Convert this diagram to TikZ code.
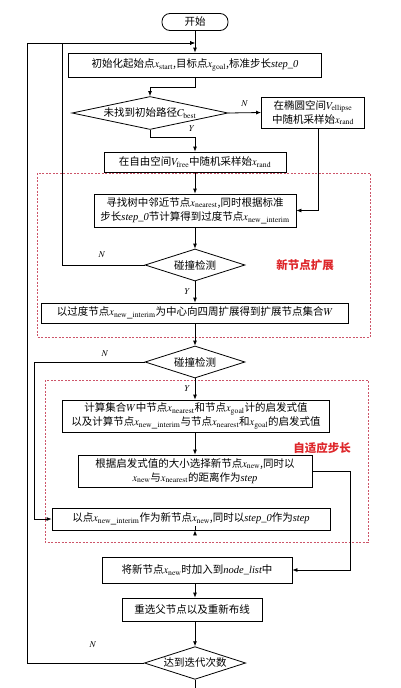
\documentclass[tikz,border=0pt]{standalone}
\usepackage{mathptmx}
\usepackage{fontspec}
\setmainfont{Liberation Serif}
\newfontfamily\cjk{Noto Sans CJK SC}
\usepackage{tikz}
\usetikzlibrary{shapes.geometric,arrows.meta}
\definecolor{tagred}{RGB}{222,38,42}
\definecolor{dashred}{RGB}{205,85,105}
\newcommand{\vn}[1]{{\rmfamily\itshape #1}}

\begin{document}
\begin{tikzpicture}[x=1pt,y=-1pt,line width=0.8pt,
    box/.style={draw,rectangle,align=center,inner sep=1pt,font=\cjk\fontsize{10.5}{14}\selectfont},
    test/.style={draw,diamond,shape aspect=3.1,inner sep=1pt,minimum width=100pt,minimum height=32pt,font=\cjk\fontsize{10.5}{12}\selectfont},
    arr/.style={-{Latex[length=5pt,width=4pt]}},
    yn/.style={font=\small},
    area/.style={draw=dashred,line width=0.6pt,dash pattern=on 2pt off 1.5pt},
    tag/.style={text=tagred,font=\cjk\bfseries\fontsize{11.5}{13}\selectfont}]
  \useasboundingbox[fill=white] (0,0) rectangle (400,688);
  \draw[area] (37,173) rectangle (370,337);
  \draw[area] (45,380) rectangle (368,542);

  \node[box,rounded corners=8pt,minimum width=66pt,minimum height=17pt] (start) at (195,22) {开始};
  \node[box,minimum width=253pt,minimum height=24pt] (init) at (195,65)
    {初始化起始点$x_{\mathrm{start}}$,目标点$x_{\mathrm{goal}}$,标准步长\vn{step\_0}};
  \node[test,shape aspect=4.7,minimum width=156pt,minimum height=33pt] (found) at (150,113)
    {未找到初始路径$C_{\mathrm{best}}$};
  \node[box,minimum width=103pt,minimum height=31pt] (ellip) at (313,112.5)
    {在椭圆空间$V_{\mathrm{ellipse}}$\\中随机采样始$x_{\mathrm{rand}}$};
  \node[box,minimum width=182pt,minimum height=20pt] (free) at (195,162)
    {在自由空间$V_{\mathrm{free}}$中随机采样始$x_{\mathrm{rand}}$};
  \node[box,minimum width=202pt,minimum height=33pt] (near) at (195,210.5)
    {寻找树中邻近节点$x_{\mathrm{nearest}}$,同时根据标准\\步长\vn{step\_0}节计算得到过度节点$x_{\mathrm{new\_interim}}$};
  \node[test] (hit1) at (195,265) {碰撞检测};
  \node[tag] (tag1) at (305,265) {新节点扩展};
  \node[box,minimum width=307pt,minimum height=20pt] (grow) at (195,313)
    {以过度节点$x_{\mathrm{new\_interim}}$为中心向四周扩展得到扩展节点集合$W$};
  \node[test] (hit2) at (195,362) {碰撞检测};
  \node[box,minimum width=267pt,minimum height=32pt] (heur) at (196,416)
    {计算集合$W$中节点$x_{\mathrm{nearest}}$和节点$x_{\mathrm{goal}}$计的启发式值\\以及计算节点$x_{\mathrm{new\_interim}}$与节点$x_{\mathrm{nearest}}$和$x_{\mathrm{goal}}$的启发式值};
  \node[tag] (tag2) at (322,448) {自适应步长};
  \node[box,minimum width=234pt,minimum height=32pt] (pick) at (195,471)
    {根据启发式值的大小选择新节点$x_{\mathrm{new}}$,同时以\\$x_{\mathrm{new}}$与$x_{\mathrm{nearest}}$的距离作为\vn{step}};
  \node[box,minimum width=278pt,minimum height=22pt] (keep) at (191,519)
    {以点$x_{\mathrm{new\_interim}}$作为新节点$x_{\mathrm{new}}$,同时以\vn{step\_0}作为\vn{step}};
  \node[box,minimum width=190pt,minimum height=26pt] (add) at (197,570)
    {将新节点$x_{\mathrm{new}}$时加入到\vn{node\_list}中};
  \node[box,minimum width=140pt,minimum height=23pt] (rewire) at (192,609.5)
    {重选父节点以及重新布线};
  \node[test] (iter) at (195,663) {达到迭代次数};

  \coordinate (entry) at (195,43);
  \coordinate (loopA) at (62,43);
  \coordinate (loopC) at (27,43);
  \coordinate (tail) at (195,690);

  \draw[arr] (start) -- (init);
  \draw[arr] (init.south) -- ++(0,10) -| (found.north);
  \draw[arr] (found.east) -- (ellip.west) node[yn,midway,above=2pt] {$N$};
  \draw[arr] (found.south) -- ++(0,7) -| (free.north);
  \node[yn] at (192,129) {$Y$};
  \draw[arr] (free) -- (near);
  \draw[arr] ([xshift=5pt]ellip.south) |- (near.east);
  \draw[arr] (near) -- (hit1);
  \draw[arr] (hit1.west) -| (loopA) -- (entry);
  \node[yn] at (102,255) {$N$};
  \draw[arr] (hit1) -- (grow) node[yn,midway,left=1pt] {$Y$};
  \draw[arr] (grow) -- (hit2);
  \draw[arr] (hit2.west) -- ++(-110,0) |- (keep.west);
  \node[yn] at (105,354) {$N$};
  \draw[arr] (hit2.south) -- (hit2.south |- heur.north) node[yn,midway,left=1pt] {$Y$};
  \draw[arr] (heur.south -| pick.north) -- (pick.north);
  \draw[arr] (pick.east) -- ++(38,0) |- (add.east);
  \draw[arr] (keep.south -| hit2.south) -- (keep.south -| hit2.south |- add.north);
  \draw[arr] (add.south -| hit2.south) -- (hit2.south |- rewire.north);
  \draw[arr] (rewire.south -| iter.north) -- (iter.north);
  \draw[arr] (iter.west) -| (loopC) -- (entry);
  \node[yn] at (93,645) {$N$};
  \draw (iter.south) -- (tail);
\end{tikzpicture}
\end{document}
